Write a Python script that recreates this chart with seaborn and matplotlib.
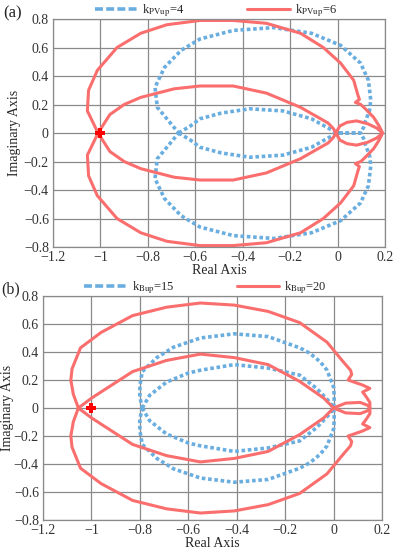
import numpy as np
import pandas as pd
import seaborn as sns
import matplotlib
matplotlib.use('Agg')
import matplotlib.pyplot as plt
from matplotlib.lines import Line2D

# ---- datos (mitad superior, la inferior es el conjugado) ----
# (a) kPVup = 6  (rojo)
a6_x = [-1.01, -0.96, -0.90, -0.83, -0.69, -0.58, -0.44, -0.30, -0.156, -0.04, -0.017, -0.008,
        0.01, 0.04, 0.08, 0.127, 0.165, 0.19,
        0.175, 0.152, 0.12, 0.098, 0.075, 0.092, 0.085, 0.068, 0.013, -0.06, -0.156, -0.30,
        -0.44, -0.58, -0.72, -0.83, -0.93, -1.013, -1.05, -1.055, -1.01]
a6_y = [0.0, 0.13, 0.20, 0.25, 0.31, 0.33, 0.33, 0.28, 0.18, 0.07, 0.03, 0.0,
        0.05, 0.075, 0.085, 0.065, 0.035, 0.0,
        0.05, 0.11, 0.165, 0.20, 0.215, 0.235, 0.27, 0.37, 0.49, 0.60, 0.70, 0.77,
        0.79, 0.79, 0.76, 0.70, 0.60, 0.44, 0.30, 0.155, 0.0]
# (a) kPVup = 4  (azul)
a4_x = [-0.67, -0.62, -0.58, -0.49, -0.37, -0.23, -0.11, -0.04, 0.0, 0.097,
        0.11, 0.118, 0.135, 0.14, 0.13, 0.097, 0.013, -0.11, -0.27, -0.44,
        -0.58, -0.66, -0.73, -0.77, -0.76, -0.73, -0.67]
a4_y = [0.0, 0.05, 0.10, 0.14, 0.17, 0.155, 0.10, 0.035, 0.0, 0.0,
        0.04, 0.085, 0.16, 0.23, 0.37, 0.49, 0.615, 0.70, 0.74, 0.72,
        0.66, 0.58, 0.46, 0.32, 0.18, 0.12, 0.0]
# (b) kBup = 20  (rojo)
b20_x = [-1.054, -1.0, -0.96, -0.83, -0.69, -0.55, -0.41, -0.27, -0.14, -0.04, 0.0,
         0.05, 0.11, 0.14, 0.15,
         0.15, 0.135, 0.12, 0.15, 0.12, 0.06, 0.075, 0.07, 0.04, -0.027, -0.14, -0.27,
         -0.41, -0.55, -0.69, -0.83, -0.96, -1.045, -1.08, -1.085, -1.075, -1.054]
b20_y = [0.0, 0.07, 0.115, 0.26, 0.34, 0.385, 0.36, 0.31, 0.19, 0.07, 0.0,
         0.035, 0.04, 0.02, 0.0,
         0.04, 0.08, 0.114, 0.14, 0.164, 0.20, 0.24, 0.27, 0.33, 0.47, 0.61, 0.69,
         0.735, 0.75, 0.72, 0.66, 0.54, 0.43, 0.28, 0.20, 0.10, 0.0]
# (b) kBup = 15  (azul)
b15_x = [-0.79, -0.76, -0.69, -0.60, -0.55, -0.41, -0.27, -0.14, -0.07, -0.02, 0.0,
         0.003, 0.0, -0.027, -0.055, -0.097, -0.14, -0.27, -0.41, -0.55, -0.66,
         -0.73, -0.79, -0.80, -0.80, -0.79]
b15_y = [0.0, 0.09, 0.185, 0.25, 0.27, 0.31, 0.285, 0.235, 0.14, 0.05, 0.0,
         0.08, 0.15, 0.27, 0.33, 0.39, 0.43, 0.51, 0.53, 0.50, 0.435,
         0.36, 0.26, 0.16, 0.08, 0.0]

punto_x = [-1.0]
punto_y = [0.0]

xticks = [-1.2, -1, -0.8, -0.6, -0.4, -0.2, 0, 0.2]
yticks = [-0.8, -0.6, -0.4, -0.2, 0, 0.2, 0.4, 0.6, 0.8]

ROJO = '#FA6E6E'
AZUL = '#6AAEE0'

sns.set_style('whitegrid')
plt.rcParams['font.family'] = ['Liberation Serif', 'DejaVu Serif']
plt.rcParams['mathtext.fontset'] = 'stix'

fig = plt.figure(figsize=(3.97, 5.5), dpi=100)
ax1 = fig.add_axes([0.1335, 0.5509, 0.8363, 0.4145])
ax2 = fig.add_axes([0.1083, 0.0545, 0.8539, 0.4073])


def curva(ax, xs, ys, color, azul):
    # mitad superior y su conjugado
    for signo in (1, -1):
        df = pd.DataFrame({'x': xs, 'y': [signo * v for v in ys]})
        if azul:
            sns.lineplot(data=df, x='x', y='y', sort=False, estimator=None, ax=ax,
                         color=color, lw=2.6, dashes=False, linestyle=(0, (1.0, 0.75)))
        else:
            sns.lineplot(data=df, x='x', y='y', sort=False, estimator=None, ax=ax,
                         color=color, lw=2.2)


def ejes(ax, etiquetas, xleg, xylab):
    ax.set_xlim(-1.2, 0.2)
    ax.set_ylim(-0.8, 0.8)
    ax.set_xticks(xticks)
    ax.set_yticks(yticks)
    ax.set_xticklabels([('%g' % t).replace('-', '\u2212') for t in xticks])
    ax.set_yticklabels([('%g' % t).replace('-', '\u2212') for t in yticks])
    ax.tick_params(length=0, labelsize=10, pad=3, colors='#333333')
    ax.grid(True, color='#8a8a8a', lw=0.9)
    for s in ax.spines.values():
        s.set_color('#8a8a8a')
        s.set_linewidth(0.9)
    ax.set_xlabel('Real Axis', fontsize=10, labelpad=0)
    ax.set_ylabel('Imaginary Axis', fontsize=10)
    ax.yaxis.set_label_coords(xylab, 0.5)
    h = [Line2D([], [], color=AZUL, lw=2.6, linestyle=(0, (2.2, 0.9))),
         Line2D([], [], color=ROJO, lw=2.2)]
    ax.legend(h, etiquetas, loc='lower center', bbox_to_anchor=(xleg, 0.995), ncol=2,
              frameon=False, fontsize=9, handlelength=3.4, columnspacing=5.0,
              handletextpad=0.4, borderaxespad=0.0, borderpad=0.1)


curva(ax1, a4_x, a4_y, AZUL, True)
curva(ax1, a6_x, a6_y, ROJO, False)
ax1.plot(punto_x, punto_y, marker='P', color='red', ms=7, mew=0)
ejes(ax1, [r'k$_{\mathrm{PVup}}$=4', r'k$_{\mathrm{PVup}}$=6'], 0.49, -0.095)

curva(ax2, b15_x, b15_y, AZUL, True)
curva(ax2, b20_x, b20_y, ROJO, False)
ax2.plot(punto_x, punto_y, marker='P', color='red', ms=7, mew=0)
ejes(ax2, [r'k$_{\mathrm{Bup}}$=15', r'k$_{\mathrm{Bup}}$=20'], 0.48, -0.085)

fig.text(0.008, 0.975, '(a)', fontsize=12, va='center')
fig.text(0.004, 0.474, '(b)', fontsize=11.5, va='center')

fig.savefig('out.png', dpi=100)
